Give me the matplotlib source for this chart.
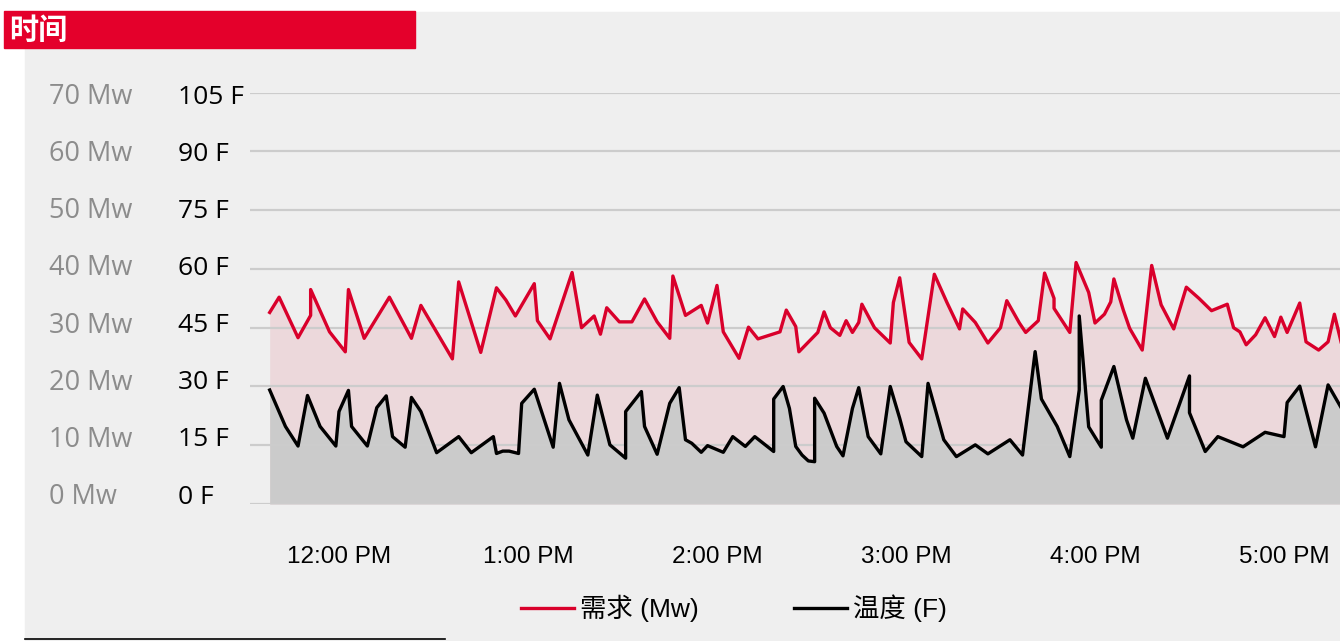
import matplotlib
matplotlib.use("Agg")
import matplotlib.pyplot as plt
from matplotlib.patches import Rectangle
from matplotlib.lines import Line2D
import pandas as pd

# demand series (Mw)
demand_times = ["11:38", "11:41", "11:47", "11:51", "11:51", "11:57", "12:02", "12:03", "12:08", "12:16",
                "12:23", "12:26", "12:36", "12:38", "12:45", "12:50", "12:53", "12:56", "13:02", "13:03",
                "13:07", "13:14", "13:17", "13:21", "13:23", "13:25", "13:29", "13:33", "13:37", "13:41",
                "13:45", "13:46", "13:50", "13:55", "13:57", "14:00", "14:02", "14:07", "14:10", "14:13",
                "14:20", "14:22", "14:25", "14:26", "14:32", "14:34", "14:36", "14:39", "14:41", "14:43",
                "14:45", "14:46", "14:50", "14:55", "14:56", "14:58", "15:01", "15:05", "15:09", "15:13",
                "15:17", "15:18", "15:22", "15:26", "15:30", "15:32", "15:36", "15:38", "15:42", "15:44",
                "15:47", "15:47", "15:52", "15:54", "15:58", "16:00", "16:03", "16:05", "16:06", "16:09",
                "16:11", "16:15", "16:18", "16:21", "16:25", "16:29", "16:33", "16:37", "16:42", "16:44",
                "16:46", "16:48", "16:51", "16:54", "16:57", "16:59", "17:01", "17:05", "17:07", "17:11",
                "17:14", "17:16", "17:19"]
demand_mw = [32.6, 35.2, 28.3, 32.1, 36.5, 29.3, 25.9, 36.5, 28.2, 35.2,
             28.2, 33.8, 24.7, 37.8, 25.8, 36.8, 34.7, 32.0, 37.5, 31.2,
             28.1, 39.4, 30.0, 32.0, 28.9, 33.4, 31.0, 31.0, 34.9, 31.0,
             28.2, 38.8, 32.1, 33.8, 30.8, 37.2, 29.3, 24.8, 30.1, 28.1,
             29.3, 33.0, 30.2, 25.9, 29.2, 32.7, 30.0, 28.7, 31.2, 29.2,
             30.9, 34.0, 30.0, 27.4, 34.3, 38.5, 27.5, 24.7, 39.1, 34.3,
             29.8, 33.2, 30.9, 27.4, 30.0, 34.6, 30.8, 29.2, 31.2, 39.3,
             35.0, 33.3, 29.2, 41.1, 36.0, 30.8, 32.3, 34.4, 38.3, 33.0,
             29.9, 26.2, 40.6, 33.9, 29.8, 36.9, 35.0, 32.9, 34.0, 30.0,
             29.3, 27.1, 28.8, 31.7, 28.5, 31.8, 29.2, 34.2, 27.6, 26.2,
             27.6, 32.3, 25.6]

# temperature series (F)
temp_times = ["11:38", "11:43", "11:47", "11:50", "11:54", "11:59", "12:00", "12:03", "12:04", "12:09",
              "12:12", "12:15", "12:17", "12:21", "12:23", "12:26", "12:31", "12:38", "12:42", "12:49",
              "12:50", "12:52", "12:54", "12:57", "12:58", "13:02", "13:08", "13:10", "13:13", "13:19",
              "13:22", "13:26", "13:31", "13:31", "13:36", "13:37", "13:41", "13:45", "13:48", "13:50",
              "13:52", "13:55", "13:57", "14:02", "14:05", "14:09", "14:12", "14:18", "14:18", "14:21",
              "14:23", "14:25", "14:27", "14:29", "14:31", "14:31", "14:34", "14:38", "14:40", "14:43",
              "14:45", "14:48", "14:52", "14:55", "14:58", "15:00", "15:05", "15:07", "15:12", "15:16",
              "15:22", "15:26", "15:33", "15:37", "15:41", "15:43", "15:48", "15:52", "15:55", "15:55",
              "15:58", "16:02", "16:02", "16:06", "16:10", "16:12", "16:16", "16:23", "16:30", "16:30",
              "16:35", "16:39", "16:47", "16:54", "17:00", "17:01", "17:05", "17:10", "17:14", "17:19"]
temp_f = [29.1, 19.8, 14.8, 27.7, 19.8, 14.8, 23.6, 29.0, 19.8, 14.8,
          24.6, 27.6, 17.2, 14.5, 27.2, 23.6, 13.1, 17.2, 13.1, 17.2,
          12.9, 13.5, 13.5, 12.9, 25.7, 29.3, 14.5, 30.8, 21.5, 12.5,
          27.8, 15.1, 11.7, 23.6, 28.7, 19.8, 12.7, 25.7, 29.7, 16.4,
          15.5, 13.2, 14.9, 13.2, 17.2, 14.7, 17.2, 13.4, 26.8, 30.0,
          24.4, 14.7, 12.5, 11.0, 10.8, 27.0, 23.2, 14.7, 12.3, 24.4,
          29.7, 17.2, 12.8, 30.0, 21.9, 15.9, 12.1, 30.8, 16.4, 12.1,
          15.1, 12.8, 16.4, 12.5, 38.9, 26.8, 19.8, 12.1, 29.1, 48.0,
          19.7, 14.5, 26.5, 35.1, 21.5, 16.8, 32.1, 16.8, 32.7, 23.3,
          13.4, 17.2, 14.6, 18.3, 17.2, 25.9, 30.1, 14.6, 30.4, 23.4]

mw_ticks = [0, 10, 20, 30, 40, 50, 60, 70]
f_ticks = [0, 15, 30, 45, 60, 75, 90, 105]
hour_ticks = ["12:00", "13:00", "14:00", "15:00", "16:00", "17:00"]
hour_labels = ["12:00 PM", "1:00 PM", "2:00 PM", "3:00 PM", "4:00 PM", "5:00 PM"]


def to_dt(times):
    return pd.to_datetime(["2024-01-01 " + t for t in times])


demand_dt = to_dt(demand_times)
temp_dt = to_dt(temp_times)
# temperature shares the left scale: 105 F lines up with 70 Mw
temp_scaled = [f / 1.5 for f in temp_f]

W, H = 1340, 641
fig = plt.figure(figsize=(W / 100, H / 100), dpi=100)
fig.patch.set_facecolor("white")

# grey panel and red title bar
fig.add_artist(Rectangle((25 / W, 0), (W - 25) / W, (H - 12) / H, transform=fig.transFigure,
                         color="#efefef", zorder=0))
fig.add_artist(Rectangle((4 / W, 1 - 48 / H), 411 / W, 37 / H, transform=fig.transFigure,
                         color="#e4002b", zorder=1))
fig.text(9 / W, 1 - 30 / H, "时间", color="white", fontsize=21, fontweight="bold",
         family="Noto Sans CJK SC", ha="left", va="center")
fig.add_artist(Line2D([25 / W, 445 / W], [1 - 639 / H, 1 - 639 / H], transform=fig.transFigure,
                      color="black", lw=1.2))

ax = fig.add_axes([250 / W, 1 - 504 / H, 1090 / W, (504 - 92.7) / H])
ax.patch.set_visible(False)

ax.fill_between(demand_dt, 0, demand_mw, color="#ecd8db", lw=0, zorder=1)
ax.fill_between(temp_dt, 0, temp_scaled, color="#cbcbcb", lw=0, zorder=2)
ax.plot(demand_dt, demand_mw, color="#d9002b", lw=2.4, label="需求 (Mw)", zorder=4)
ax.plot(temp_dt, temp_scaled, color="black", lw=2.4, label="温度 (F)", zorder=5)

ax.set_ylim(0, 70)
ax.set_xlim(pd.Timestamp("2024-01-01 11:31:45"), pd.Timestamp("2024-01-01 17:17:47"))
ax.set_yticks(mw_ticks)
ax.set_axisbelow(False)
ax.grid(axis="y", color="#cccccc", lw=1.6)
ax.tick_params(axis="y", left=False, labelleft=False)
ax.set_xticks(to_dt(hour_ticks), hour_labels)
ax.tick_params(axis="x", length=0, pad=30, labelsize=17.5)
for lab in ax.get_xticklabels():
    lab.set_family("Liberation Sans")
for s in ax.spines.values():
    s.set_visible(False)

# two columns of y labels, left of the plot; they sit on a slightly tighter
# pitch than the gridlines in the original
for i, (mw, f) in enumerate(zip(mw_ticks, f_ticks)):
    ypos = 1 - (497 - i * 400 / 7) / H
    fig.text(49 / W, ypos, f"{mw} Mw", ha="left", va="center",
             color="#8c8c8c", fontsize=19.5, family="Open Sans")
    fig.text(178 / W, ypos, f"{f} F", ha="left", va="center",
             color="black", fontsize=19, family="Open Sans")

fig.legend(loc="center", bbox_to_anchor=(734 / W, 1 - 608 / H), ncol=2, frameon=False,
           handlelength=2.0, handletextpad=0.25, columnspacing=3.6,
           prop={"family": ["Liberation Sans", "Noto Sans CJK SC"], "size": 19})

fig.savefig("out.png", dpi=100, facecolor="white")
